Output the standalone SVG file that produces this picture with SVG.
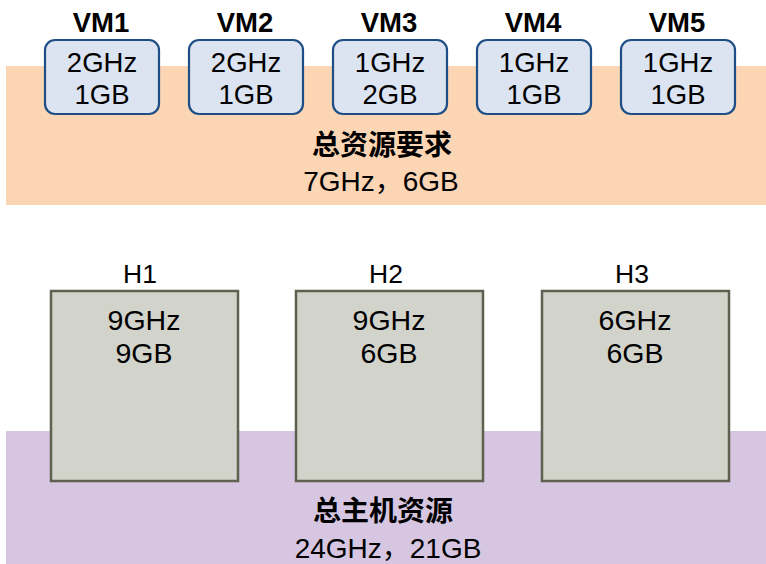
<svg xmlns="http://www.w3.org/2000/svg" width="766" height="564" viewBox="0 0 766 564">
<style>
.t{font-family:"Liberation Sans",Arial,"Noto Sans CJK SC",sans-serif;fill:#000;text-anchor:middle}
.vml{font-size:27.5px;font-weight:bold}
.v{font-size:27.5px}
.hv{font-size:28.5px}
.b{font-size:28px}
.h{font-size:26.5px}
.cn{font-family:"Liberation Sans","Noto Sans CJK SC",sans-serif;font-size:28px;font-weight:bold}
.vm{fill:#DCE3F1;stroke:#1F4E86;stroke-width:2.2}
.host{fill:#D2D3CB;stroke:#5E6150;stroke-width:2.5}
</style>
<rect x="6" y="66" width="760" height="139" fill="#FBD5B4"/>
<rect x="6" y="431" width="760" height="133" fill="#D6C6E1"/>
<g id="vm1"><text class="t vml" x="101" y="32">VM1</text><rect class="vm" x="45" y="40" width="114" height="74" rx="10"/><text class="t v" x="102" y="72">2GHz</text><text class="t v" x="102" y="104">1GB</text></g>
<g id="vm2"><text class="t vml" x="245" y="32">VM2</text><rect class="vm" x="189" y="40" width="114" height="74" rx="10"/><text class="t v" x="246" y="72">2GHz</text><text class="t v" x="246" y="104">1GB</text></g>
<g id="vm3"><text class="t vml" x="389" y="32">VM3</text><rect class="vm" x="333" y="40" width="114" height="74" rx="10"/><text class="t v" x="390" y="72">1GHz</text><text class="t v" x="390" y="104">2GB</text></g>
<g id="vm4"><text class="t vml" x="533" y="32">VM4</text><rect class="vm" x="477" y="40" width="114" height="74" rx="10"/><text class="t v" x="534" y="72">1GHz</text><text class="t v" x="534" y="104">1GB</text></g>
<g id="vm5"><text class="t vml" x="677" y="32">VM5</text><rect class="vm" x="621" y="40" width="114" height="74" rx="10"/><text class="t v" x="678" y="72">1GHz</text><text class="t v" x="678" y="104">1GB</text></g>
<g id="req"><text class="t cn" x="382" y="155">总资源要求</text><text class="t b" x="381" y="191">7GHz，6GB</text></g>
<g id="h1"><text class="t h" x="140" y="283">H1</text><rect class="host" x="51" y="291" width="187" height="190"/><text class="t hv" x="144" y="330">9GHz</text><text class="t hv" x="144" y="363">9GB</text></g>
<g id="h2"><text class="t h" x="386" y="283">H2</text><rect class="host" x="296" y="291" width="187" height="190"/><text class="t hv" x="389" y="330">9GHz</text><text class="t hv" x="389" y="363">6GB</text></g>
<g id="h3"><text class="t h" x="632" y="283">H3</text><rect class="host" x="542" y="291" width="187" height="190"/><text class="t hv" x="635" y="330">6GHz</text><text class="t hv" x="635" y="363">6GB</text></g>
<g id="total"><text class="t cn" x="383" y="521">总主机资源</text><text class="t b" x="388" y="558">24GHz，21GB</text></g>
<g id="connectors"></g>
</svg>
